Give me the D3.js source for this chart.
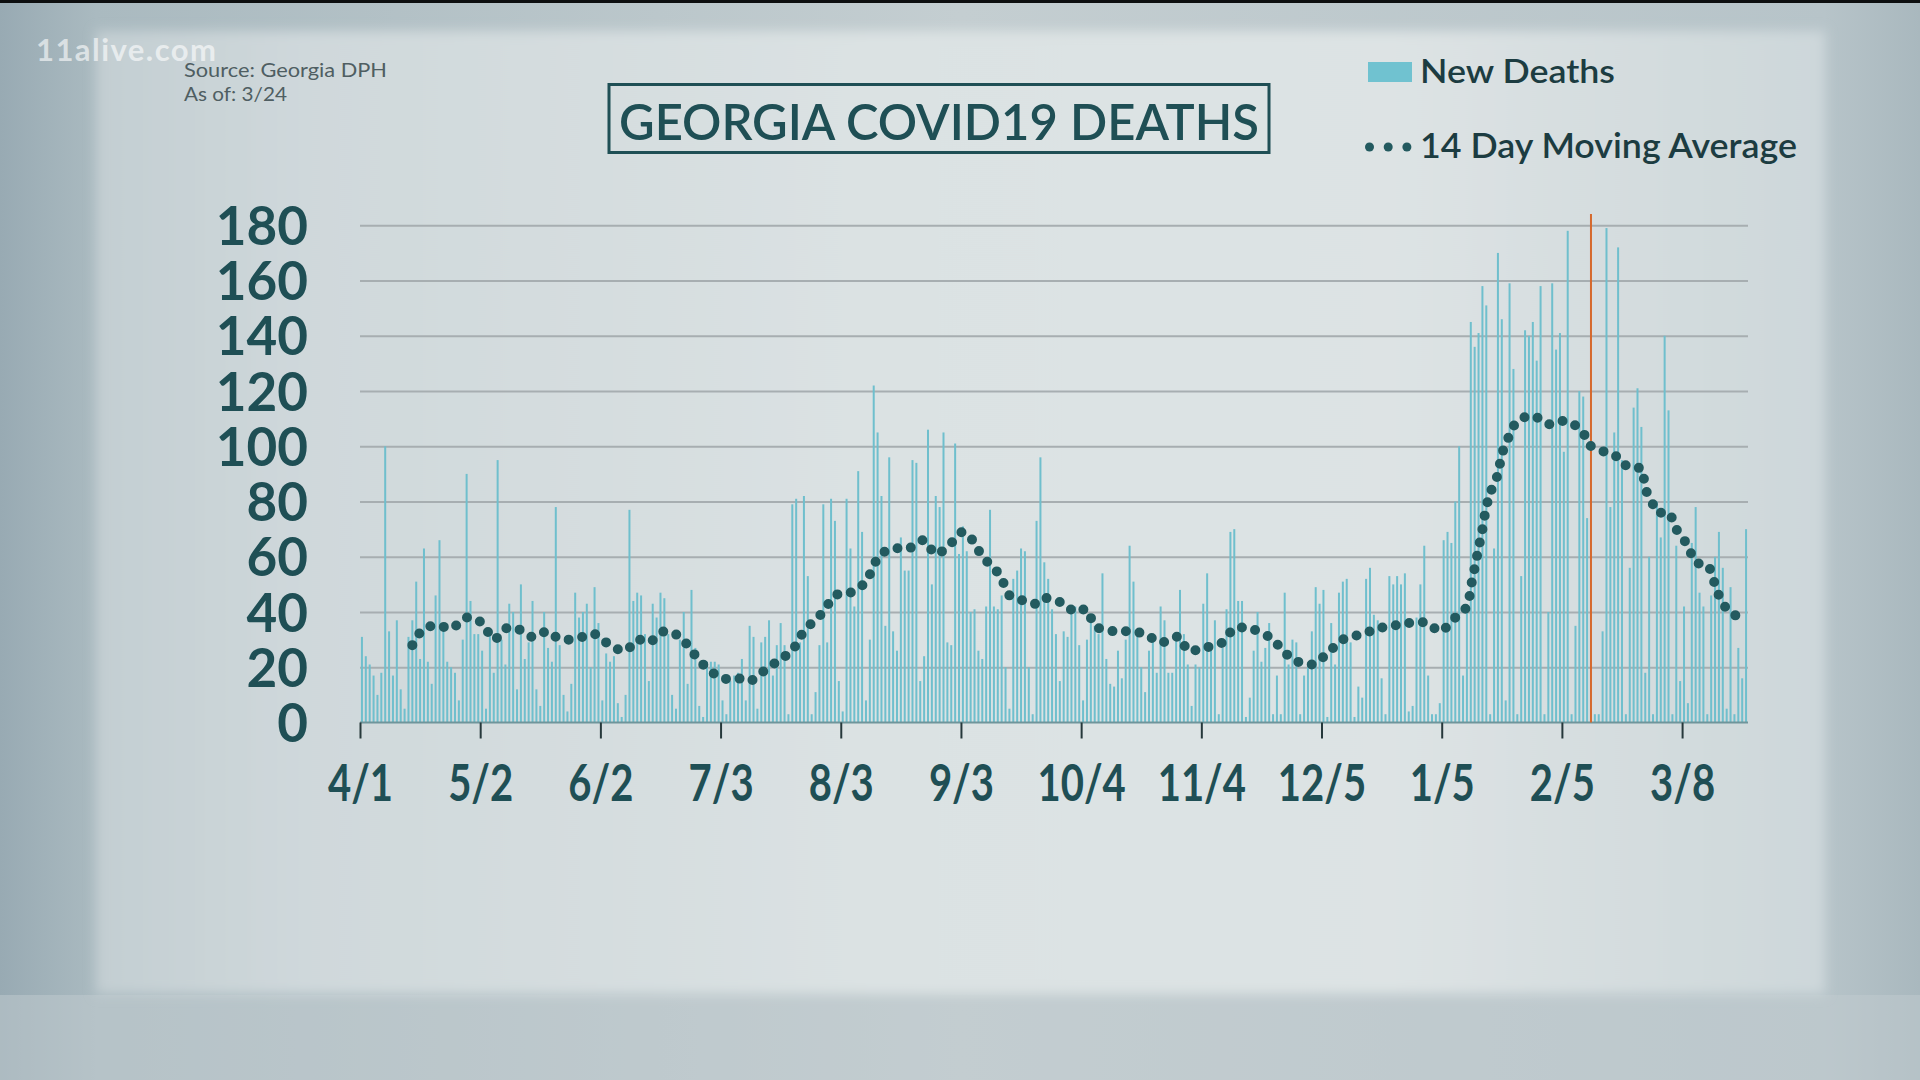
<!DOCTYPE html>
<html><head><meta charset="utf-8">
<script src="https://cdn.jsdelivr.net/npm/d3@7"></script>
<style>html,body{margin:0;padding:0;overflow:hidden;background:#c3cdd1}svg{display:block}</style>
</head><body><svg id="chart" width="1920" height="1080"></svg>
<script>
// ---------------- DATA ----------------
const startDate = "2020-04-01";
// daily new deaths, 4/1/2020 .. 3/24/2021
const newDeaths = [
31,24,21,17,10,18,100,33,17,37,12,5,31,37,51,23,63,22,14,46,
66,34,22,20,18,8,30,90,44,32,32,26,5,33,18,95,30,21,43,40,
12,50,23,29,44,12,6,40,27,22,78,28,10,4,14,47,38,40,43,20,
49,36,8,25,22,24,7,2,10,77,44,47,46,32,15,43,38,47,45,32,
10,5,30,40,14,48,27,6,2,22,22,22,21,8,3,15,17,18,23,8,
35,31,5,29,31,37,17,28,36,28,3,79,81,29,82,53,3,11,28,79,
29,81,73,15,4,81,63,42,91,69,8,30,122,105,82,35,96,33,26,67,
55,55,95,94,15,24,106,50,82,78,105,29,28,101,61,71,62,40,41,26,
23,42,77,42,41,46,20,5,52,55,63,62,20,3,73,96,58,52,41,32,
15,33,31,42,42,28,8,30,37,35,32,54,23,14,13,26,16,30,64,51,
32,20,11,26,30,18,42,37,18,18,30,48,32,21,6,21,20,43,54,27,
37,3,27,41,69,70,44,44,2,9,26,40,22,27,36,3,17,3,47,21,
30,29,3,17,20,33,49,43,48,2,36,21,47,51,52,29,2,13,9,52,
56,39,37,16,3,53,50,53,50,54,4,6,38,50,64,17,3,3,7,66,
69,65,80,100,17,41,145,136,141,158,151,3,63,170,146,8,159,128,3,53,
142,140,145,131,158,3,40,159,135,141,98,178,3,35,120,118,74,5,3,3,
33,179,78,105,172,95,3,56,114,121,107,18,60,3,80,67,140,113,3,64,
15,42,7,65,78,47,42,3,46,60,69,56,5,49,3,27,16,70
];
// 14 day moving average, read at these day offsets from 4/1
const maDayIndex = [13,16,20,23,27,31,34,37,40,44,48,50,53,57,60,64,68,71,74,78,82,85,88,93,97,100,104,108,111,113,116,119,122,126,130,132,134,137,141,145,148,152,155,158,160,163,165,167,171,174,176,181,184,187,189,194,198,202,206,211,213,217,222,225,229,234,237,240,245,249,253,258,262,266,270,275,278,282,285,286,287,288,289,290,291,293,294,296,298,302,306,309,311,315,316,319,322,324,325,328,330,331,333,334,335,337,339,342,344,347,349,351,354,357];
const maValues   = [28,34,35,34,38,36,30,34,34,31,33,31,30,31,32,28,26,30,29,33,31,26,21,16,16,15,19,23,26,31,36,40,46,47,51,57,61,63,63,66,61,65,69,65,60,56,52,46,44,43,45,43,40,41,35,33,33,32,29,31,26,27,29,34,34,31,27,23,21,25,30,32,34,35,36,36,33,38,42,49,56,63,70,78,83,90,97,104,109,111,108,109,109,105,101,99,97,96,94,92,92,85,79,79,76,76,70,64,58,57,50,43,39,37];
const yTicks = [0,20,40,60,80,100,120,140,160,180];
const xTickDates  = ["2020-04-01","2020-05-02","2020-06-02","2020-07-03","2020-08-03","2020-09-03","2020-10-04","2020-11-04","2020-12-05","2021-01-05","2021-02-05","2021-03-08"];
const xTickLabels = ["4/1","5/2","6/2","7/3","8/3","9/3","10/4","11/4","12/5","1/5","2/5","3/8"];
const markerDate = "2021-02-12";
const titleText = "GEORGIA COVID19 DEATHS";
const sourceLines = ["Source: Georgia DPH","As of: 3/24"];
const legendLabels = ["New Deaths","14 Day Moving Average"];

// ---------------- DRAW ----------------
const svg = d3.select("#chart");
const defs = svg.append("defs");
const FONT = "Lato, 'Open Sans', sans-serif";
const TEAL = "#1f4f55";

// background
const gOut = defs.append("linearGradient").attr("id","gout").attr("x1",0).attr("x2",1).attr("y1",0).attr("y2",0);
[[0,"#98aab3"],[0.05,"#aabac0"],[0.5,"#c4ced1"],[0.95,"#b7c4c9"],[1,"#a9b8be"]].forEach(s=>gOut.append("stop").attr("offset",s[0]).attr("stop-color",s[1]));
const gIn = defs.append("linearGradient").attr("id","gin").attr("x1",0).attr("x2",1).attr("y1",0).attr("y2",0);
[[0,"#c3ced2"],[0.12,"#cfd8db"],[0.45,"#dbe2e3"],[0.75,"#dde3e4"],[1,"#cdd7da"]].forEach(s=>gIn.append("stop").attr("offset",s[0]).attr("stop-color",s[1]));
defs.append("filter").attr("id","soft").attr("x","-5%").attr("y","-5%").attr("width","110%").attr("height","110%")
  .append("feGaussianBlur").attr("stdDeviation",6);
svg.append("rect").attr("width",1920).attr("height",1080).attr("fill","url(#gout)");
svg.append("rect").attr("x",0).attr("y",995).attr("width",1920).attr("height",85).attr("fill","#c1cbcf").attr("opacity",0.5);
svg.append("rect").attr("x",96).attr("y",31).attr("width",1729).attr("height",963).attr("fill","url(#gin)").attr("filter","url(#soft)");
svg.append("rect").attr("width",1920).attr("height",3).attr("fill","#0d0f10");

// scales
const start = new Date(startDate + "T00:00:00Z");
const dates = newDeaths.map((_, i) => d3.utcDay.offset(start, i));
const x = d3.scaleUtc().domain([start, d3.utcDay.offset(start, newDeaths.length)]).range([360, 1748]);
const y = d3.scaleLinear().domain([0, 180]).range([722.5, 225.3]);
const dayW = x(d3.utcDay.offset(start,1)) - x(start);
const barW = 2;

// gridlines
svg.append("g").attr("transform","translate(360,0)")
  .call(d3.axisLeft(y).tickValues(yTicks.filter(t=>t>0)).tickSize(-(1748-360)).tickFormat(""))
  .call(g=>g.select(".domain").remove())
  .call(g=>g.selectAll("line").attr("stroke","#a7aeb1").attr("stroke-width",2));

// y labels
svg.append("g").attr("transform","translate(360,0)")
  .call(d3.axisLeft(y).tickValues(yTicks).tickSize(0).tickPadding(52))
  .call(g=>g.select(".domain").remove())
  .call(g=>g.selectAll("text").attr("font-family",FONT).attr("font-weight",700).attr("font-size",53)
        .attr("fill",TEAL).attr("dy","0.36em"));

// bars
svg.append("g").selectAll("rect").data(newDeaths).join("rect")
  .attr("x",(d,i)=>x(dates[i]) + (dayW-barW)/2)
  .attr("width",barW)
  .attr("y",d=>y(d))
  .attr("height",d=>y(0)-y(d))
  .attr("fill","#6fbfcd");

// baseline
svg.append("line").attr("x1",360).attr("x2",1748).attr("y1",y(0)).attr("y2",y(0))
  .attr("stroke","#6f959b").attr("stroke-width",2);

// x axis
svg.append("g").attr("transform",`translate(0,${y(0)})`)
  .call(d3.axisBottom(x).tickValues(xTickDates.map(s=>new Date(s+"T00:00:00Z"))).tickSize(16)
        .tickFormat((d,i)=>xTickLabels[i]))
  .call(g=>g.select(".domain").remove())
  .call(g=>g.selectAll("line").attr("stroke","#26383b").attr("stroke-width",2))
  .call(g=>g.selectAll("text").attr("font-family",FONT).attr("font-weight",700).attr("font-size",52)
        .attr("fill",TEAL).attr("y",78).attr("dy",0)
        .each(function(){ const w=this.getComputedTextLength(); d3.select(this).attr("textLength",w*0.77).attr("lengthAdjust","spacingAndGlyphs"); }));

// marker line
const mx = x(new Date(markerDate+"T00:00:00Z"))+dayW/2;
svg.append("line").attr("x1",mx).attr("x2",mx)
  .attr("y1",214).attr("y2",y(0)).attr("stroke","#d6692d").attr("stroke-width",2);

// moving average dotted line
const line = d3.line()
  .x((d,i)=>x(d3.utcDay.offset(start, maDayIndex[i])) + dayW/2)
  .y(d=>y(d))
  .curve(d3.curveCatmullRom.alpha(0.5));
svg.append("path").datum(maValues).attr("d",line).attr("fill","none")
  .attr("stroke","#235a5f").attr("stroke-width",10).attr("stroke-linecap","round")
  .attr("stroke-dasharray","0 13.6");

// title
svg.append("rect").attr("x",609).attr("y",84.5).attr("width",660).attr("height",68)
  .attr("fill","none").attr("stroke",TEAL).attr("stroke-width",3);
svg.append("text").attr("x",939).attr("y",140).attr("text-anchor","middle")
  .attr("font-family",FONT).attr("font-weight",600).attr("font-size",49).attr("fill",TEAL)
  .attr("textLength",640).attr("lengthAdjust","spacingAndGlyphs").text(titleText);

// source
svg.append("g").selectAll("text").data(sourceLines).join("text")
  .attr("x",184).attr("y",(d,i)=>77+i*23.5)
  .attr("font-family",FONT).attr("font-size",20).attr("fill","#4f5e62")
  .each(function(d,i){ d3.select(this).attr("textLength",i===0?203:103).attr("lengthAdjust","spacingAndGlyphs"); })
  .text(d=>d);

// watermark
svg.append("text").attr("x",36).attr("y",61).attr("font-family",FONT).attr("font-weight",700)
  .attr("font-size",31).attr("fill","#ffffff").attr("fill-opacity",0.6).attr("textLength",180).text("11alive.com");

// legend
svg.append("rect").attr("x",1368).attr("y",62).attr("width",44).attr("height",20).attr("fill","#70c2d0");
svg.append("text").attr("x",1420).attr("y",83).attr("font-family",FONT).attr("font-weight",600)
  .attr("font-size",32).attr("fill","#1c3c41").attr("textLength",195).attr("lengthAdjust","spacingAndGlyphs").text(legendLabels[0]);
svg.append("g").selectAll("circle").data([0,1,2]).join("circle")
  .attr("cx",d=>1369.5+d*18.7).attr("cy",147).attr("r",4.5).attr("fill","#235a5f");
svg.append("text").attr("x",1420).attr("y",158).attr("font-family",FONT).attr("font-weight",600)
  .attr("font-size",35).attr("fill","#1c3c41").attr("textLength",377).attr("lengthAdjust","spacingAndGlyphs").text(legendLabels[1]);
</script></body></html>
